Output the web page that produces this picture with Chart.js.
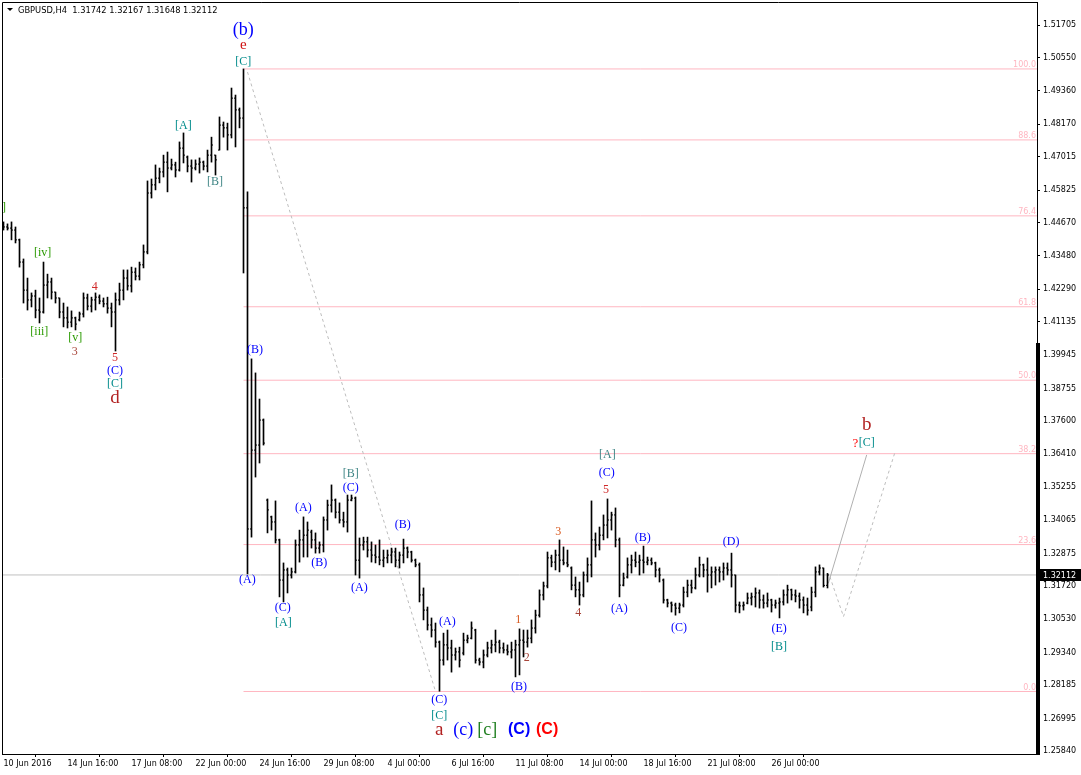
<!DOCTYPE html>
<html>
<head>
<meta charset="utf-8">
<script src="https://cdn.jsdelivr.net/npm/chart.js@4.4.0/dist/chart.umd.min.js"></script>
<style>
  html, body { margin: 0; padding: 0; background: #fff; }
  #wrap { width: 1081px; height: 775px; }
</style>
</head>
<body>
<div id="wrap"><canvas id="chart" width="1081" height="775"></canvas></div>
<script>
// GBPUSD H4, bars from 10 Jun 2016 00:00 (bar 0) to 28 Jul 2016
const symbol = 'GBPUSD,H4';

const barOpen = [
  1.4454,1.4451,1.4447,1.4440,1.4405,1.4326,1.4226,1.4191,1.4205,1.4155,
  1.4148,1.4244,1.4255,1.4219,1.4198,1.4148,1.4127,1.4112,1.4127,1.4120,
  1.4141,1.4198,1.4169,1.4191,1.4201,1.4187,1.4177,1.4162,1.4148,1.4191,
  1.4226,1.4269,1.4241,1.4290,1.4276,1.4316,1.4362,1.4572,1.4601,1.4625,
  1.4647,1.4682,1.4661,1.4672,1.4654,1.4732,1.4700,1.4668,1.4661,1.4675,
  1.4682,1.4668,1.4707,1.4707,1.4725,1.4814,1.4804,1.4779,1.4910,1.4868,
  1.4839,1.4519,1.3375,1.3656,1.3674,1.3763,1.3478,1.3418,1.3400,1.3336,
  1.3193,1.3229,1.3211,1.3222,1.3318,1.3336,1.3353,1.3364,1.3336,1.3307,
  1.3318,1.3407,1.3460,1.3478,1.3435,1.3407,1.3400,1.3478,1.3485,1.3264,
  1.3318,1.3329,1.3300,1.3282,1.3275,1.3264,1.3272,1.3282,1.3293,1.3264,
  1.3282,1.3307,1.3293,1.3264,1.3247,1.3140,1.3086,1.3033,1.3015,1.2972,
  1.2908,1.2962,1.2951,1.2926,1.2937,1.2933,1.2979,1.2986,1.3015,1.2908,
  1.2901,1.2926,1.2951,1.2962,1.2972,1.2951,1.2944,1.2937,1.2944,1.2962,
  1.2979,1.2972,1.2986,1.3022,1.3068,1.3140,1.3172,1.3272,1.3257,1.3282,
  1.3264,1.3254,1.3236,1.3175,1.3158,1.3140,1.3211,1.3247,1.3336,1.3318,
  1.3353,1.3389,1.3407,1.3425,1.3336,1.3175,1.3204,1.3247,1.3264,1.3257,
  1.3264,1.3257,1.3264,1.3254,1.3229,1.3193,1.3122,1.3111,1.3104,1.3093,
  1.3104,1.3150,1.3175,1.3165,1.3211,1.3247,1.3229,1.3211,1.3222,1.3229,
  1.3222,1.3236,1.3229,1.3211,1.3104,1.3101,1.3111,1.3129,1.3133,1.3147,
  1.3122,1.3111,1.3122,1.3104,1.3111,1.3115,1.3140,1.3158,1.3140,1.3136,
  1.3122,1.3104,1.3097,1.3150,1.3222,1.3236,1.31742
];
const barHigh = [
  1.4469,1.4462,1.4469,1.4451,1.4408,1.4337,1.4269,1.4216,1.4226,1.4198,
  1.4326,1.4283,1.4269,1.4219,1.4198,1.4180,1.4166,1.4152,1.4130,1.4148,
  1.4216,1.4212,1.4201,1.4216,1.4209,1.4198,1.4201,1.4180,1.4216,1.4251,
  1.4298,1.4298,1.4308,1.4305,1.4326,1.4387,1.4615,1.4622,1.4672,1.4661,
  1.4707,1.4718,1.4693,1.4682,1.4754,1.4786,1.4704,1.4690,1.4690,1.4697,
  1.4686,1.4725,1.4771,1.4707,1.4843,1.4825,1.4821,1.4946,1.4921,1.4875,
  1.5014,1.4576,1.3981,1.3931,1.3838,1.3767,1.3482,1.3421,1.3475,1.3339,
  1.3254,1.3236,1.3236,1.3336,1.3371,1.3418,1.3400,1.3371,1.3361,1.3329,
  1.3418,1.3478,1.3532,1.3482,1.3468,1.3435,1.3496,1.3496,1.3489,1.3343,
  1.3346,1.3346,1.3329,1.3318,1.3336,1.3300,1.3300,1.3307,1.3307,1.3293,
  1.3339,1.3311,1.3296,1.3268,1.3254,1.3165,1.3097,1.3058,1.3040,1.2976,
  1.3004,1.3015,1.2979,1.2951,1.2954,1.3004,1.2997,1.3044,1.3018,1.2915,
  1.2944,1.2972,1.2979,1.3015,1.2979,1.2969,1.2962,1.2972,1.2979,1.3019,
  1.3015,1.3015,1.3051,1.3086,1.3158,1.3186,1.3293,1.3282,1.3300,1.3336,
  1.3311,1.3300,1.3240,1.3204,1.3186,1.3222,1.3272,1.3475,1.3361,1.3382,
  1.3425,1.3482,1.3435,1.3450,1.3343,1.3218,1.3272,1.3282,1.3293,1.3282,
  1.3314,1.3275,1.3272,1.3257,1.3236,1.3197,1.3125,1.3115,1.3111,1.3111,
  1.3168,1.3193,1.3193,1.3236,1.3275,1.3250,1.3272,1.3240,1.3240,1.3240,
  1.3254,1.3254,1.3289,1.3211,1.3115,1.3115,1.3147,1.3147,1.3165,1.3158,
  1.3140,1.3147,1.3125,1.3122,1.3129,1.3158,1.3175,1.3161,1.3158,1.3147,
  1.3133,1.3129,1.3168,1.3240,1.3247,1.3236,1.32167
];
const barLow = [
  1.4440,1.4440,1.4405,1.4394,1.4308,1.4180,1.4155,1.4166,1.4127,1.4109,
  1.4144,1.4198,1.4194,1.4180,1.4127,1.4095,1.4091,1.4095,1.4084,1.4116,
  1.4130,1.4155,1.4148,1.4155,1.4177,1.4166,1.4144,1.4095,1.4009,1.4173,
  1.4191,1.4226,1.4219,1.4262,1.4262,1.4305,1.4355,1.4554,1.4583,1.4608,
  1.4629,1.4576,1.4654,1.4629,1.4650,1.4679,1.4647,1.4611,1.4654,1.4643,
  1.4654,1.4647,1.4682,1.4636,1.4725,1.4771,1.4725,1.4768,1.4736,1.4804,
  1.4287,1.3215,1.3346,1.3560,1.3610,1.3674,1.3361,1.3371,1.3325,1.3133,
  1.3115,1.3147,1.3200,1.3218,1.3257,1.3275,1.3275,1.3307,1.3289,1.3289,
  1.3293,1.3371,1.3435,1.3414,1.3396,1.3382,1.3364,1.3475,1.3211,1.3200,
  1.3300,1.3275,1.3257,1.3254,1.3247,1.3240,1.3254,1.3254,1.3240,1.3236,
  1.3254,1.3272,1.3257,1.3240,1.3115,1.3051,1.3015,1.2990,1.2954,1.2797,
  1.2890,1.2908,1.2865,1.2908,1.2883,1.2926,1.2969,1.2983,1.2897,1.2890,
  1.2880,1.2919,1.2933,1.2937,1.2933,1.2933,1.2926,1.2915,1.2848,1.2855,
  1.2919,1.2954,1.2969,1.3004,1.3061,1.3122,1.3165,1.3240,1.3229,1.3222,
  1.3247,1.3240,1.3158,1.3133,1.3104,1.3133,1.3186,1.3204,1.3275,1.3300,
  1.3336,1.3343,1.3371,1.3311,1.3133,1.3172,1.3200,1.3218,1.3240,1.3211,
  1.3218,1.3247,1.3247,1.3204,1.3186,1.3111,1.3097,1.3079,1.3068,1.3076,
  1.3097,1.3133,1.3147,1.3161,1.3204,1.3204,1.3150,1.3165,1.3175,1.3186,
  1.3193,1.3211,1.3168,1.3079,1.3076,1.3086,1.3108,1.3104,1.3097,1.3093,
  1.3093,1.3097,1.3079,1.3093,1.3058,1.3104,1.3111,1.3122,1.3115,1.3093,
  1.3076,1.3068,1.3083,1.3133,1.3211,1.3168,1.31648
];
const barClose = [
  1.4451,1.4447,1.4440,1.4405,1.4326,1.4226,1.4191,1.4205,1.4155,1.4148,
  1.4244,1.4255,1.4219,1.4198,1.4148,1.4127,1.4112,1.4127,1.4105,1.4141,
  1.4198,1.4169,1.4191,1.4201,1.4187,1.4177,1.4162,1.4148,1.4191,1.4226,
  1.4269,1.4241,1.4290,1.4276,1.4316,1.4362,1.4572,1.4601,1.4625,1.4647,
  1.4682,1.4661,1.4672,1.4654,1.4732,1.4707,1.4668,1.4661,1.4675,1.4682,
  1.4668,1.4707,1.4743,1.4690,1.4814,1.4804,1.4779,1.4910,1.4868,1.4839,
  1.4519,1.3375,1.3656,1.3674,1.3763,1.3681,1.3443,1.3400,1.3336,1.3193,
  1.3229,1.3211,1.3222,1.3318,1.3336,1.3353,1.3371,1.3336,1.3307,1.3318,
  1.3407,1.3460,1.3478,1.3435,1.3407,1.3400,1.3478,1.3485,1.3264,1.3318,
  1.3329,1.3300,1.3282,1.3275,1.3264,1.3272,1.3282,1.3293,1.3264,1.3282,
  1.3307,1.3293,1.3264,1.3247,1.3140,1.3086,1.3033,1.3015,1.2972,1.2908,
  1.2962,1.2951,1.2926,1.2937,1.2908,1.2979,1.2986,1.3022,1.2908,1.2901,
  1.2926,1.2951,1.2962,1.2972,1.2951,1.2944,1.2937,1.2944,1.2962,1.2979,
  1.2972,1.2986,1.3022,1.3068,1.3140,1.3172,1.3272,1.3257,1.3282,1.3264,
  1.3254,1.3247,1.3175,1.3158,1.3140,1.3211,1.3247,1.3336,1.3318,1.3353,
  1.3389,1.3407,1.3425,1.3336,1.3175,1.3200,1.3247,1.3264,1.3257,1.3264,
  1.3257,1.3264,1.3254,1.3229,1.3211,1.3122,1.3111,1.3104,1.3093,1.3104,
  1.3150,1.3175,1.3165,1.3211,1.3247,1.3229,1.3211,1.3222,1.3229,1.3222,
  1.3236,1.3229,1.3211,1.3104,1.3101,1.3104,1.3129,1.3133,1.3147,1.3122,
  1.3111,1.3122,1.3104,1.3111,1.3115,1.3140,1.3158,1.3140,1.3136,1.3122,
  1.3104,1.3086,1.3150,1.3222,1.3236,1.3174,1.32112
];

// axis ticks as MT4 prints them
const priceTicks = [1.51705,1.50550,1.49360,1.48170,1.47015,1.45825,1.44670,1.43480,1.42290,
  1.41135,1.39945,1.38755,1.37600,1.36410,1.35255,1.34065,1.32875,1.31720,1.30530,1.29340,
  1.28185,1.26995,1.25840];
const xTickBars = [0,16,32,48,64,80,96,112,128,144,160,176,192];
const xTickLabels = ['10 Jun 2016','14 Jun 16:00','17 Jun 08:00','22 Jun 00:00','24 Jun 16:00',
  '29 Jun 08:00','4 Jul 00:00','6 Jul 16:00','11 Jul 08:00','14 Jul 00:00','18 Jul 16:00',
  '21 Jul 08:00','26 Jul 00:00'];

// fibonacci retracement of the 24 Jun high -> 6 Jul low
const fibHigh = 1.5014, fibLow = 1.2796, fibStartBar = 60;
const fibLevels = [0, 23.6, 38.2, 50, 61.8, 76.4, 88.6, 100];

// trend lines (bar index, price)
const retraceBars = [61.0, 107.9], retracePrices = [1.5003, 1.2801];
const projSolidBars = [206.2, 215.8], projSolidPrices = [1.3181, 1.3639];
const projDashBars = [206.6, 210.0, 222.9], projDashPrices = [1.3205, 1.3063, 1.3650];

// elliott wave marks
const waveText = ['(b)','e','[C]','[A]','[B]',']','[iv]','[iii]','[v]','3','4','5','(C)','[C]','d',
  '(B)','(A)','(C)','[A]','(A)','(B)','[B]','(C)','(A)','(B)',
  '(A)','(C)','[C]','a','(c)','[c]','(C)','(C)','1','2','(B)',
  '3','4','5','(C)','[A]','(A)','(B)','(C)','(D)','(E)','[B]','b','?','[C]'];
const waveBar = [59.95,59.95,59.95,44.95,52.9,0.1,9.8,8.95,17.95,17.8,22.8,27.9,27.9,27.9,27.9,
  62.9,60.95,69.8,69.95,74.95,78.95,86.8,86.8,88.95,99.8,
  110.95,108.95,108.95,108.95,114.95,120.95,128.9,135.9,128.7,130.8,128.9,
  138.7,143.7,150.6,150.8,150.95,153.95,159.8,168.9,181.9,193.9,193.9,215.8,212.95,215.8];
const wavePrice = [1.5153,1.5099,1.5039,1.4811,1.4611,1.4519,1.4358,1.4077,1.4055,1.4006,1.4237,1.3984,1.3938,1.3892,1.3842,
  1.4013,1.3193,1.3093,1.3040,1.3450,1.3254,1.3571,1.3521,1.3165,1.3389,
  1.3044,1.2766,1.2709,1.2659,1.2659,1.2659,1.2659,1.2659,1.3051,1.2915,1.2812,
  1.3364,1.3076,1.3514,1.3574,1.3639,1.3090,1.3343,1.3022,1.3329,1.3019,1.2954,1.3745,1.3681,1.3681];
const waveKind = ['big','e','bt','bt','bg','rg','rg','rg','rg','nb','nr','nr','pb','bt','dd',
  'pb','pb','pb','bt','pb','pb','bg','pb','pb','pb',
  'pb','pb','bt','dd','cb','cg','Cb','Cr','no','nb','pb',
  'no','nb','nr','pb','bg','pb','pb','pb','pb','pb','bt','dd','q','bt'];

const waveStyle = {
  big: ['18px "Liberation Serif"', '#0000ff'],
  e:   ['15px "Liberation Serif"', '#d01010'],
  bt:  ['12px "Liberation Serif"', '#008b8b'],
  bg:  ['12px "Liberation Serif"', '#3f8585'],
  rg:  ['12px "Liberation Serif"', '#2a9a00'],
  nr:  ['12px "Liberation Serif"', '#d02a2a'],
  nb:  ['12px "Liberation Serif"', '#a8453a'],
  no:  ['12px "Liberation Serif"', '#d8581e'],
  pb:  ['12px "Liberation Serif"', '#0000ff'],
  dd:  ['19px "Liberation Serif"', '#b22222'],
  cb:  ['18px "Liberation Serif"', '#0000ff'],
  cg:  ['18px "Liberation Serif"', '#1f7f1f'],
  Cb:  ['bold 16px "Liberation Sans"', '#0000ff'],
  Cr:  ['bold 16px "Liberation Sans"', '#ff0000'],
  q:   ['13px "Liberation Serif"', '#ff0000']
};

const xMin = -0.375, xMax = 258.375;
const yMin = 1.25733, yMax = 1.52525;
const axisFont = { family: 'DejaVu Sans', size: 8 };
const last = barClose.length - 1;
const idx = barClose.map((_, i) => i);
const pts = (xs, ys) => xs.map((x, i) => ({ x: x, y: ys[i] }));

const fibSets = fibLevels.map(l => {
  const p = fibLow + (fibHigh - fibLow) * l / 100;
  return { type: 'line', data: pts([fibStartBar, xMax], [p, p]), borderColor: '#ffb6c1',
    borderWidth: 1, pointRadius: 0, order: 9 };
});

const overlay = {
  id: 'overlay',
  afterDatasetsDraw(chart) {
    const { ctx, chartArea: ca, scales: { x, y } } = chart;
    ctx.save();
    // fib level captions
    ctx.font = '8px "DejaVu Sans"';
    ctx.fillStyle = '#ffb6c1';
    ctx.textAlign = 'right';
    ctx.textBaseline = 'bottom';
    fibLevels.forEach(l => {
      const p = fibLow + (fibHigh - fibLow) * l / 100;
      ctx.fillText(l.toFixed(1), ca.right - 1, y.getPixelForValue(p));
    });
    // wave labels
    ctx.textAlign = 'center';
    ctx.textBaseline = 'middle';
    waveText.forEach((t, i) => {
      const s = waveStyle[waveKind[i]];
      ctx.font = s[0];
      ctx.fillStyle = s[1];
      ctx.fillText(t, x.getPixelForValue(waveBar[i]), y.getPixelForValue(wavePrice[i]));
    });
    // header
    ctx.fillStyle = '#000';
    ctx.beginPath();
    ctx.moveTo(ca.left + 5, 8); ctx.lineTo(ca.left + 11, 8); ctx.lineTo(ca.left + 8, 11);
    ctx.closePath(); ctx.fill();
    ctx.font = '8.3px "DejaVu Sans"';
    ctx.textAlign = 'left';
    const hdr = symbol + '  ' + [barOpen[last], barHigh[last], barLow[last], barClose[last]]
      .map(v => v.toFixed(5)).join(' ');
    ctx.fillText(hdr, ca.left + 16, 10.5);
    ctx.restore();
  },
  afterDraw(chart) {
    const { ctx, chartArea: ca, scales: { y } } = chart;
    ctx.save();
    ctx.strokeStyle = '#000';
    ctx.lineWidth = 1;
    ctx.beginPath();
    ctx.moveTo(ca.left + 0.5, ca.bottom); ctx.lineTo(ca.left + 0.5, ca.top + 0.5);
    ctx.lineTo(ca.right, ca.top + 0.5);
    ctx.stroke();
    // thick scale segment
    const yt = Math.round(y.getPixelForValue(1.4036));
    ctx.fillStyle = '#000';
    ctx.fillRect(ca.right - 1, yt, 4, ca.bottom - yt + 1);
    // last price box
    const yp = Math.round(y.getPixelForValue(barClose[last]));
    ctx.fillRect(ca.right + 1, yp - 6, 44, 12);
    ctx.fillStyle = '#fff';
    ctx.font = '8px "DejaVu Sans"';
    ctx.textAlign = 'left';
    ctx.textBaseline = 'middle';
    ctx.fillText(barClose[last].toFixed(5), ca.right + 6, yp + 0.5);
    ctx.restore();
  }
};

new Chart(document.getElementById('chart'), {
  type: 'scatter',
  data: {
    datasets: [
      { type: 'bar', data: idx.map(i => ({ x: i, y: [barLow[i], barHigh[i]] })),
        backgroundColor: '#000', borderWidth: 0, barThickness: 1, order: 2 },
      { type: 'scatter', data: pts(idx, barOpen), pointStyle: 'dash', rotation: 180,
        radius: 1.5, borderColor: '#000', borderWidth: 1, order: 1 },
      { type: 'scatter', data: pts(idx, barClose), pointStyle: 'dash', rotation: 0,
        radius: 1.5, borderColor: '#000', borderWidth: 1, order: 1 },
      ...fibSets,
      { type: 'line', data: pts([xMin, xMax], [barClose[last], barClose[last]]),
        borderColor: '#c0c0c0', borderWidth: 1, pointRadius: 0, order: 8 },
      { type: 'line', data: pts(retraceBars, retracePrices), borderColor: '#bdbdbd',
        borderWidth: 1, borderDash: [3, 3], pointRadius: 0, order: 7 },
      { type: 'line', data: pts(projSolidBars, projSolidPrices), borderColor: '#b0b0b0',
        borderWidth: 1, pointRadius: 0, order: 7 },
      { type: 'line', data: pts(projDashBars, projDashPrices), borderColor: '#bdbdbd',
        borderWidth: 1, borderDash: [3, 3], pointRadius: 0, order: 7 }
    ]
  },
  options: {
    responsive: false,
    animation: false,
    devicePixelRatio: 1,
    events: [],
    layout: { autoPadding: false, padding: { left: 2, top: 2, right: 0, bottom: 0 } },
    plugins: { legend: { display: false }, tooltip: { enabled: false } },
    scales: {
      x: {
        type: 'linear', position: 'bottom', min: xMin, max: xMax, offset: false,
        afterBuildTicks: s => { s.ticks = xTickBars.map(v => ({ value: v })); },
        afterFit: s => { s.height = 21; s.paddingLeft = 0; s.paddingRight = 0; },
        grid: { drawOnChartArea: false, tickLength: 3, color: '#000' },
        border: { color: '#000' },
        ticks: { callback: (v, i) => xTickLabels[i], align: 'start', labelOffset: 0, padding: 2,
          maxRotation: 0, autoSkip: false, font: axisFont, color: '#000' }
      },
      y: {
        type: 'linear', position: 'right', min: yMin, max: yMax,
        afterBuildTicks: s => { s.ticks = priceTicks.map(v => ({ value: v })); },
        afterFit: s => { s.width = 44; s.paddingTop = 0; s.paddingBottom = 0; },
        grid: { drawOnChartArea: false, tickLength: 3, color: '#000' },
        border: { color: '#000' },
        ticks: { callback: v => v.toFixed(5), padding: 3, autoSkip: false, font: axisFont, color: '#000' }
      }
    }
  },
  plugins: [overlay]
});
</script>
</body>
</html>
